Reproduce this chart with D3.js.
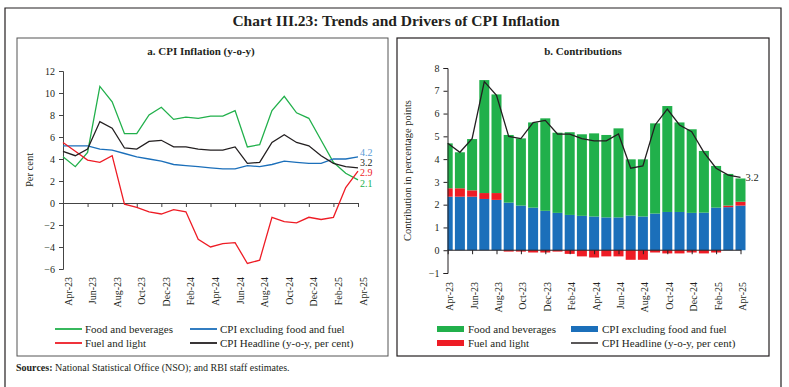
<!DOCTYPE html>
<html>
<head>
<meta charset="utf-8">
<script src="https://cdn.jsdelivr.net/npm/d3@7"></script>
<style>
  body { margin: 0; background: #fff; }
  text { font-family: "Liberation Serif", "DejaVu Serif", serif; fill: #231f20; }
</style>
</head>
<body>
<script>
const width = 789, height = 387;

// months Apr-23 .. Apr-25
const months = ["Apr-23","May-23","Jun-23","Jul-23","Aug-23","Sep-23","Oct-23","Nov-23","Dec-23",
  "Jan-24","Feb-24","Mar-24","Apr-24","May-24","Jun-24","Jul-24","Aug-24","Sep-24","Oct-24",
  "Nov-24","Dec-24","Jan-25","Feb-25","Mar-25","Apr-25"];
const tickMonths = months.filter((d, i) => i % 2 === 0);

// panel a: y-o-y inflation (per cent)
const foodInfl = [4.2,3.3,4.6,10.6,9.2,6.3,6.3,8.0,8.7,7.6,7.8,7.7,7.9,7.9,8.4,5.1,5.3,8.4,9.7,8.2,7.7,5.7,3.7,2.7,2.1];
const coreInfl = [5.2,5.2,5.2,4.9,4.8,4.5,4.2,4.0,3.8,3.5,3.4,3.3,3.2,3.1,3.1,3.4,3.3,3.5,3.8,3.7,3.6,3.6,4.0,4.0,4.2];
const fuelInfl = [5.5,4.7,3.9,3.7,4.3,-0.1,-0.4,-0.8,-1.0,-0.6,-0.8,-3.3,-4.0,-3.7,-3.6,-5.5,-5.2,-1.3,-1.7,-1.8,-1.3,-1.5,-1.3,1.4,2.9];
const headline = [4.7,4.3,4.9,7.4,6.8,5.0,4.9,5.6,5.7,5.1,5.1,4.9,4.8,4.8,5.1,3.6,3.7,5.5,6.2,5.5,5.2,4.3,3.6,3.3,3.2];

// panel b: contributions (percentage points)
const foodContr = [1.97,1.58,2.25,4.96,4.33,2.97,2.95,3.74,4.06,3.52,3.63,3.58,3.65,3.62,3.91,2.47,2.51,3.96,4.65,3.93,3.67,2.71,1.83,1.39,1.02];
const coreContr = [2.35,2.35,2.35,2.25,2.21,2.09,1.96,1.87,1.73,1.64,1.55,1.51,1.48,1.44,1.44,1.52,1.48,1.61,1.68,1.68,1.64,1.65,1.87,1.89,1.96];
const fuelContr = [0.37,0.37,0.28,0.26,0.30,-0.06,-0.06,-0.10,-0.10,-0.06,-0.16,-0.27,-0.32,-0.27,-0.27,-0.42,-0.42,-0.10,-0.14,-0.14,-0.10,-0.14,-0.10,0.07,0.17];

const cGreen = "#21b04b", cBlue = "#1b6fba", cRed = "#ee1c25", cBlack = "#231f20";

const svg = d3.select("body").append("svg")
    .attr("width", width)
    .attr("height", height);

// frames
svg.append("path")
    .attr("d", "M5,395 V8 H781 V395")
    .attr("fill", "none").attr("stroke", "#231f20").attr("stroke-width", 1.2);
svg.append("rect").attr("x", 17).attr("y", 38).attr("width", 371).attr("height", 318)
    .attr("fill", "none").attr("stroke", "#555").attr("stroke-width", 1);
svg.append("rect").attr("x", 397).attr("y", 38).attr("width", 372).attr("height", 318)
    .attr("fill", "none").attr("stroke", "#231f20").attr("stroke-width", 1.2);

svg.append("text").attr("x", 396).attr("y", 26).attr("text-anchor", "middle")
    .style("font-size", "15.5px").style("font-weight", "bold")
    .text("Chart III.23: Trends and Drivers of CPI Inflation");
svg.append("text").attr("x", 201).attr("y", 55).attr("text-anchor", "middle")
    .style("font-size", "11px").style("font-weight", "bold")
    .text("a. CPI Inflation (y-o-y)");
svg.append("text").attr("x", 583).attr("y", 55).attr("text-anchor", "middle")
    .style("font-size", "11px").style("font-weight", "bold")
    .text("b. Contributions");

let src = svg.append("text").attr("x", 16).attr("y", 371).style("font-size", "10px");
src.append("tspan").style("font-weight", "bold").text("Sources:");
src.append("tspan").text(" National Statistical Office (NSO); and RBI staff estimates.");

// ---------- panel a ----------
const xa = d3.scalePoint().domain(months).range([63, 358]);
const ya = d3.scaleLinear().domain([-6, 12]).range([269, 71]);

const ga = svg.append("g");
ga.append("g").attr("transform", "translate(63,0)")
    .call(d3.axisLeft(ya).tickValues(d3.range(-6, 13, 2)).tickSize(4).tickPadding(4))
    .call(g => g.selectAll("text").style("font-size", "10px").style("font-family", "Liberation Serif"))
    .call(g => g.selectAll("line,path").attr("stroke", "#444"));
ga.append("g").attr("transform", `translate(0,${ya(0)})`)
    .call(d3.axisBottom(xa).tickValues(tickMonths).tickSize(4).tickSizeOuter(0).tickFormat(""))
    .call(g => g.selectAll("line,path").attr("stroke", "#444"));
ga.selectAll("text.xl").data(tickMonths).enter().append("text")
    .attr("transform", d => `translate(${xa(d) + 5},277) rotate(-90)`)
    .attr("text-anchor", "end").attr("dy", "0.35em")
    .style("font-size", "10px").text(d => d);
ga.append("text").attr("transform", `translate(33,${ya(3)}) rotate(-90)`)
    .attr("text-anchor", "middle").style("font-size", "10.5px").text("Per cent");

const lineA = d3.line().x((d, i) => xa(months[i])).y(d => ya(d));
[[foodInfl, cGreen], [coreInfl, cBlue], [fuelInfl, cRed], [headline, cBlack]].forEach(([s, c]) => {
    ga.append("path").datum(s).attr("d", lineA)
        .attr("fill", "none").attr("stroke", c).attr("stroke-width", 1.3);
});
const endLabels = [[coreInfl, "#5b9bd5", 153], [headline, cBlack, 163], [fuelInfl, cRed, 173], [foodInfl, cGreen, 184]];
endLabels.forEach(([s, c, y]) => {
    ga.append("text").attr("x", xa(months[months.length - 1]) + 2).attr("y", y).attr("dy", "0.33em")
        .style("font-size", "10px").style("fill", c).text(s[s.length - 1].toFixed(1));
});

const legA = [["Food and beverages", cGreen, 55, 329], ["CPI excluding food and fuel", cBlue, 190, 329],
    ["Fuel and light", cRed, 55, 343], ["CPI Headline (y-o-y, per cent)", cBlack, 190, 343]];
legA.forEach(([t, c, x, y]) => {
    ga.append("line").attr("x1", x).attr("x2", x + 27).attr("y1", y).attr("y2", y)
        .attr("stroke", c).attr("stroke-width", 1.8);
    ga.append("text").attr("x", x + 30).attr("y", y).attr("dy", "0.35em")
        .style("font-size", "11px").text(t);
});

// ---------- panel b ----------
const xb = d3.scalePoint().domain(months).range([447.7, 740.5]);
const yb = d3.scaleLinear().domain([-1, 8]).range([273, 68]);
const barW = 10;

const gb = svg.append("g");
svg.append("clipPath").attr("id", "clipb").append("rect")
    .attr("x", 447.5).attr("y", 60).attr("width", 310).attr("height", 230);
const bars = gb.append("g").attr("clip-path", "url(#clipb)");

const stacks = months.map((m, i) => {
    const fPos = Math.max(fuelContr[i], 0);
    return [
        { m, y0: 0, y1: coreContr[i], c: cBlue },
        { m, y0: coreContr[i], y1: coreContr[i] + fPos, c: cRed },
        { m, y0: coreContr[i] + fPos, y1: coreContr[i] + fPos + foodContr[i], c: cGreen },
        { m, y0: Math.min(fuelContr[i], 0), y1: 0, c: cRed }
    ];
}).flat().filter(d => d.y1 > d.y0);

bars.selectAll("rect").data(stacks).enter().append("rect")
    .attr("x", d => xb(d.m) - barW / 2)
    .attr("width", barW)
    .attr("y", d => yb(d.y1))
    .attr("height", d => yb(d.y0) - yb(d.y1))
    .attr("fill", d => d.c);

gb.append("g").attr("transform", "translate(447.5,0)")
    .call(d3.axisLeft(yb).tickValues(d3.range(-1, 9, 1)).tickSize(4).tickPadding(4))
    .call(g => g.selectAll("text").style("font-size", "10px").style("font-family", "Liberation Serif"))
    .call(g => g.selectAll("line,path").attr("stroke", "#231f20"));
gb.append("g").attr("transform", `translate(0,${yb(0)})`)
    .call(d3.axisBottom(xb).tickValues(tickMonths).tickSize(4).tickSizeOuter(0).tickFormat(""))
    .call(g => g.select("path").attr("d", `M447.5,0H${xb(months[24]) + 1}`))
    .call(g => g.selectAll("line,path").attr("stroke", "#231f20"));
gb.selectAll("text.xl").data(tickMonths).enter().append("text")
    .attr("transform", d => `translate(${xb(d) + 2},282) rotate(-90)`)
    .attr("text-anchor", "end").attr("dy", "0.35em")
    .style("font-size", "10px").text(d => d);
gb.append("text").attr("transform", `translate(411,${yb(3.5)}) rotate(-90)`)
    .attr("text-anchor", "middle").style("font-size", "10.5px").text("Contribution in percentage points");

const lineB = d3.line().x((d, i) => xb(months[i])).y(d => yb(d));
gb.append("path").datum(headline).attr("d", lineB)
    .attr("fill", "none").attr("stroke", cBlack).attr("stroke-width", 1.3);
gb.append("text").attr("x", xb(months[24]) + 5).attr("y", yb(3.2)).attr("dy", "0.35em")
    .style("font-size", "10.5px").text(headline[24].toFixed(1));

const legB = [["Food and beverages", cGreen, 437, 329, "rect"], ["CPI excluding food and fuel", cBlue, 571, 329, "rect"],
    ["Fuel and light", cRed, 437, 343, "rect"], ["CPI Headline (y-o-y, per cent)", cBlack, 571, 343, "line"]];
legB.forEach(([t, c, x, y, k]) => {
    if (k === "rect") {
        gb.append("rect").attr("x", x).attr("y", y - 3).attr("width", 27).attr("height", 6).attr("fill", c);
    } else {
        gb.append("line").attr("x1", x).attr("x2", x + 27).attr("y1", y).attr("y2", y)
            .attr("stroke", c).attr("stroke-width", 1.5);
    }
    gb.append("text").attr("x", x + 31).attr("y", y).attr("dy", "0.35em")
        .style("font-size", "11px").text(t);
});
</script>
</body>
</html>
